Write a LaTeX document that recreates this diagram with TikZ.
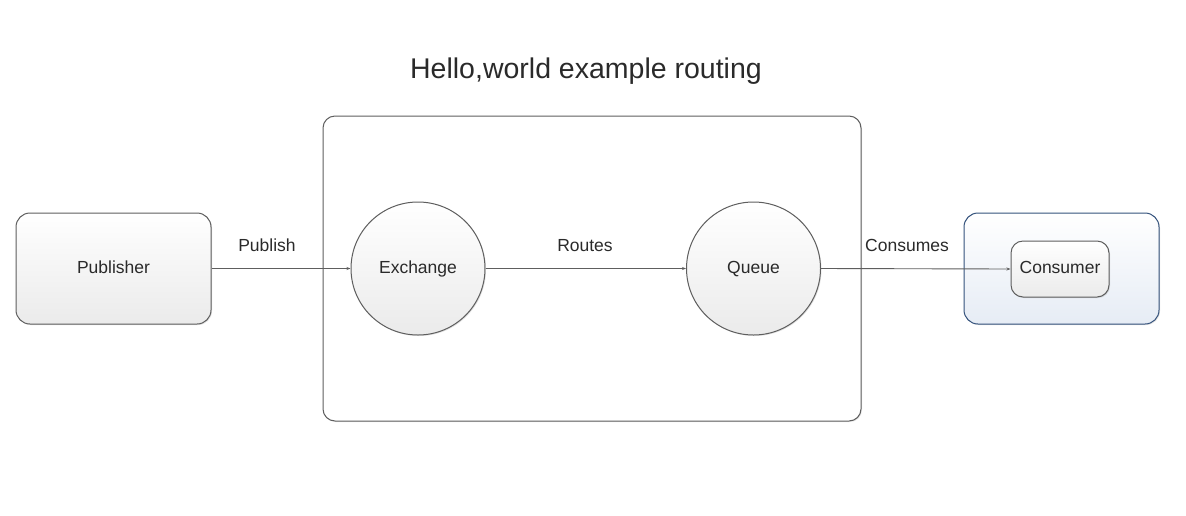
\documentclass[tikz,border=0pt]{standalone}
\usepackage{fontspec}
\setmainfont{Liberation Sans}
\usetikzlibrary{arrows.meta,shapes.geometric,shadows}
\definecolor{edge}{HTML}{5E5E5E}
\definecolor{bluebd}{HTML}{34527C}
\definecolor{bluebg}{HTML}{E6ECF5}
\definecolor{txt}{HTML}{2A2A2A}
\tikzset{
  every node/.style={text=txt},
  grayfill/.style={top color=white,bottom color=black!8},
  fnt/.style={font=\fontsize{17.5}{21}\selectfont,text height=12.5pt,text depth=3.5pt},
  rbox/.style={draw=edge,line width=1pt,rounded corners=14pt,grayfill,
     drop shadow={shadow xshift=1pt,shadow yshift=-1pt,opacity=0.25},
     minimum width=195pt,minimum height=111pt,fnt},
  circ/.style={draw=edge,line width=1pt,ellipse,grayfill,
     drop shadow={shadow xshift=1pt,shadow yshift=-1pt,opacity=0.25},
     minimum width=134pt,minimum height=133pt,fnt},
  conn/.style={draw=edge,line width=0.9pt,-{Stealth[length=4pt,width=3pt]}},
  lbl/.style={fnt},
}
\begin{document}
\begin{tikzpicture}[x=1pt,y=-1pt]
\useasboundingbox (0,0) rectangle (1186,515);
\node[font=\fontsize{28.5}{34}\selectfont] (title) at (586,71) {Hello,world example routing};
\node[draw=edge,line width=1pt,rounded corners=12pt,fill=white,
  drop shadow={shadow xshift=1pt,shadow yshift=-1pt,opacity=0.2},
  minimum width=538pt,minimum height=305pt] (broker) at (592,268.5) {};
\node[rbox] (pub) at (113.5,268.5) {Publisher};
\node[circ] (ex) at (418,268.5) {Exchange};
\node[circ] (q) at (753.5,268.5) {Queue};
\node[draw=bluebd,line width=1pt,rounded corners=14pt,top color=white,bottom color=bluebg,
  drop shadow={shadow xshift=1pt,shadow yshift=-1pt,opacity=0.25},
  minimum width=195pt,minimum height=111pt] (cbox) at (1061.5,268.5) {};
\node[draw=edge,line width=1pt,rounded corners=12pt,grayfill,
  drop shadow={shadow xshift=1pt,shadow yshift=-1pt,opacity=0.25},
  minimum width=98pt,minimum height=56pt,fnt] (cons) at (1060,269) {Consumer};
\draw[conn] (pub.east) -- (ex.west);
\draw[conn] (ex.east) -- (q.west);
\draw[conn] (q.east) -- (cons.west);
\node[lbl] (l1) at (267,247) {Publish};
\node[lbl] (l2) at (585,247) {Routes};
\node[lbl] (l3) at (907,247) {Consumes};
\end{tikzpicture}
\end{document}
